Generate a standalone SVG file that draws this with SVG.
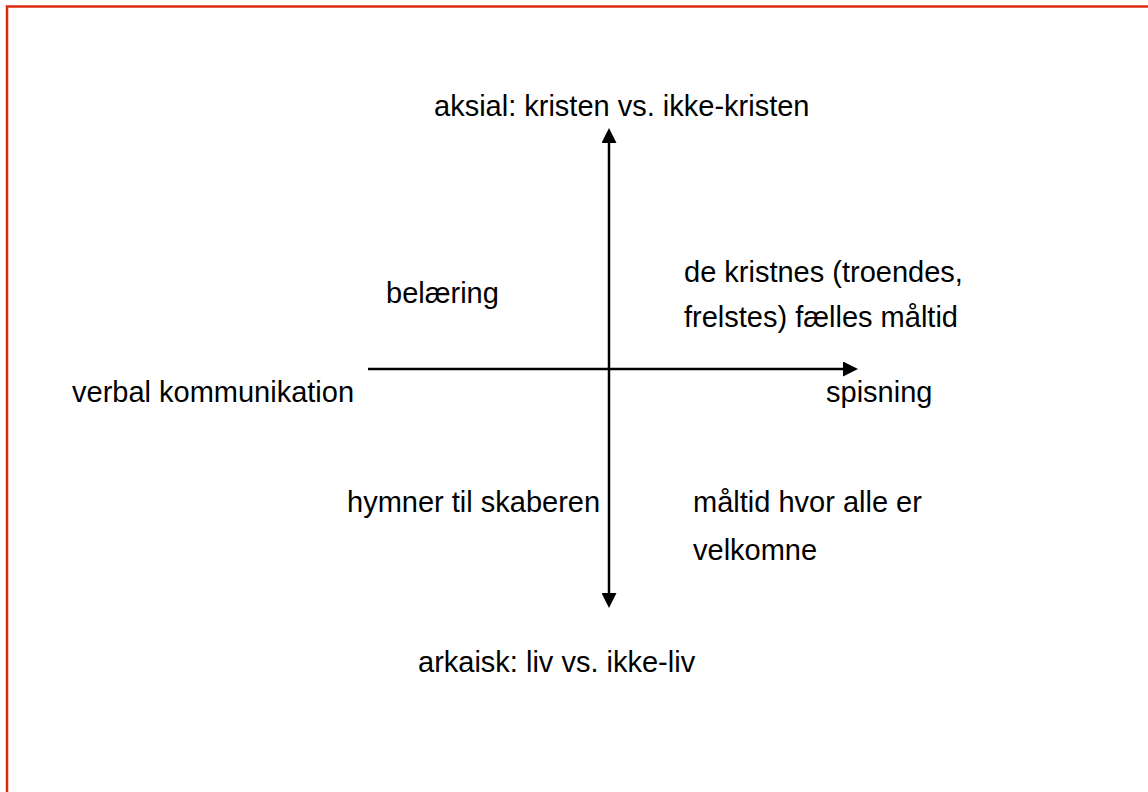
<svg xmlns="http://www.w3.org/2000/svg" width="1148" height="792" viewBox="0 0 1148 792">
<style>
.t{font-family:"Liberation Sans",Arial,sans-serif;font-size:29px;fill:#000}
.ax{stroke:#000;stroke-width:2.5;fill:none}
</style>
<defs>
<marker id="ah" viewBox="0 0 10 10" refX="0" refY="5" markerWidth="6" markerHeight="6" markerUnits="strokeWidth" orient="auto">
<path d="M0,0 L10,5 L0,10 Z" fill="#000"/>
</marker>
</defs>
<rect width="1148" height="792" fill="#fff"/>
<path d="M7,792 V6.5 H1148" fill="none" stroke="#de2a10" stroke-width="2.5"/>
<g id="connectors">
<line class="ax" x1="609" y1="369" x2="609" y2="143" marker-end="url(#ah)"/>
<line class="ax" x1="609" y1="369" x2="609" y2="593" marker-end="url(#ah)"/>
<line class="ax" x1="368" y1="369" x2="843" y2="369" marker-end="url(#ah)"/>
</g>
<g id="n-top"><text class="t" x="434" y="116">aksial: kristen vs. ikke-kristen</text></g>
<g id="n-bottom"><text class="t" x="418" y="672">arkaisk: liv vs. ikke-liv</text></g>
<g id="n-left"><text class="t" x="72" y="402">verbal kommunikation</text></g>
<g id="n-right"><text class="t" x="826" y="402">spisning</text></g>
<g id="n-q2"><text class="t" x="386" y="303">belæring</text></g>
<g id="n-q1"><text class="t" x="684" y="282">de kristnes (troendes,</text><text class="t" x="684" y="327">frelstes) fælles måltid</text></g>
<g id="n-q3"><text class="t" x="347" y="512">hymner til skaberen</text></g>
<g id="n-q4"><text class="t" x="693" y="512">måltid hvor alle er</text><text class="t" x="693" y="560">velkomne</text></g>
</svg>
